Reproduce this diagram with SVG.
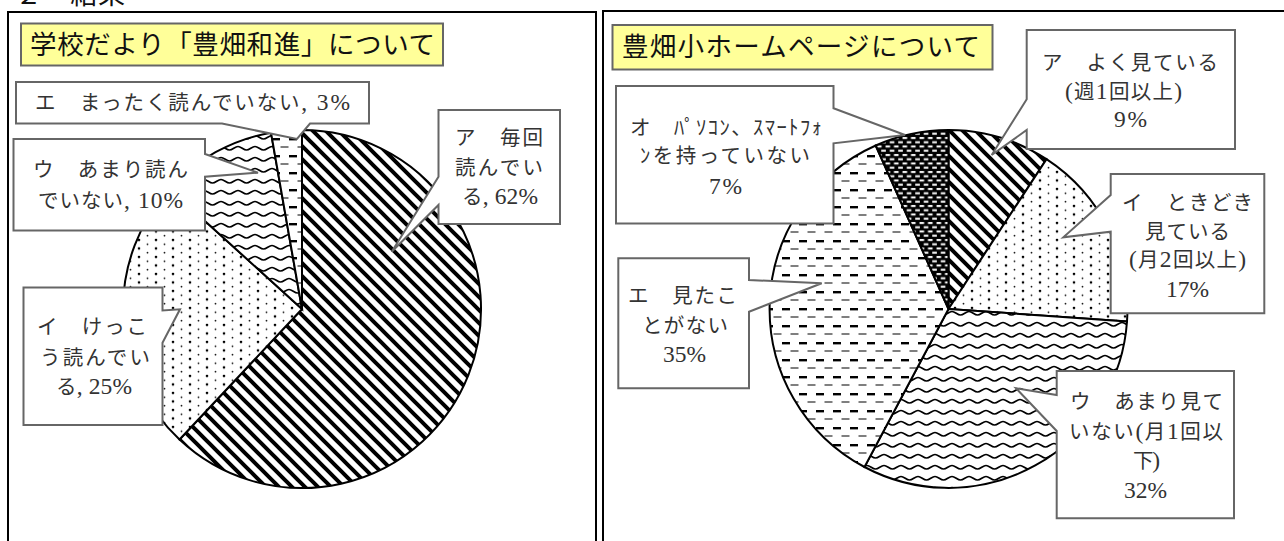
<svg xmlns="http://www.w3.org/2000/svg" width="1284" height="541" viewBox="0 0 1284 541">
<style>
text{font-family:"Liberation Serif","Noto Sans CJK JP",serif;fill:#333;font-size:20.5px}
text.t{fill:#111;font-size:26.5px}
text.h{fill:#111;font-size:27px}
.n{font-size:23.5px}
text.n{font-size:23.5px}
.fr{fill:none;stroke:#000;stroke-width:2}
.s{stroke:#000;stroke-width:2}
.c{fill:#fff;stroke:#666;stroke-width:2}
.y{fill:#ffff99;stroke:#666;stroke-width:2}
</style>
<defs>
<pattern id="stripe" width="13" height="13" patternUnits="userSpaceOnUse">
<rect width="13" height="13" fill="#fff"/>
<path d="M-3,-3L16,16M-3,10L3,16M10,-3L16,3" stroke="#000" stroke-width="4"/>
</pattern>
<pattern id="dots" width="17" height="8.5" patternUnits="userSpaceOnUse">
<rect width="17" height="8.5" fill="#fff"/>
<circle cx="3" cy="2" r="1.3" fill="#000"/>
<circle cx="11.5" cy="6.25" r="0.9" fill="#000"/>
</pattern>
<pattern id="wave" width="17" height="11" patternUnits="userSpaceOnUse">
<rect width="17" height="11" fill="#fff"/>
<path d="M0,3.5C3,3.5 5.5,7 8.5,7C11.5,7 14,3.5 17,3.5" fill="none" stroke="#000" stroke-width="1.7"/>
</pattern>
<pattern id="dash" width="17" height="17" patternUnits="userSpaceOnUse">
<rect width="17" height="17" fill="#fff"/>
<rect x="0" y="2" width="8" height="2.4" fill="#000"/>
<rect x="8.5" y="10.5" width="8" height="1" fill="#000"/>
</pattern>
<pattern id="dark" width="8.5" height="8.5" patternUnits="userSpaceOnUse">
<rect width="8.5" height="8.5" fill="#000"/>
<rect x="1.5" y="1" width="4.6" height="2" fill="#fff"/>
<rect x="-2.75" y="5.25" width="4.6" height="2" fill="#fff"/>
<rect x="5.75" y="5.25" width="4.6" height="2" fill="#fff"/>
</pattern>
</defs>
<rect width="1284" height="541" fill="#fff"/>
<text id="heading" class="h" x="15" y="4" textLength="110">２　結果</text>
<path class="fr" d="M8,541V12H596V541"/>
<path class="fr" d="M603,541V11H1284"/>

<g id="pie-left">
<path class="s" fill="url(#stripe)" d="M302,309V130A179,179 0 1 1 179.5,439.5Z"/>
<path class="s" fill="url(#dots)" d="M302,309L179.5,439.5A179,179 0 0 1 169.4,188.7Z"/>
<path class="s" fill="url(#wave)" d="M302,309L169.4,188.7A179,179 0 0 1 271,132.7Z"/>
<path class="s" fill="url(#dash)" d="M302,309L271,132.7A179,179 0 0 1 302,130Z"/>
</g>
<g id="pie-right">
<path class="s" fill="url(#stripe)" d="M948.5,309V130A179,179 0 0 1 1046.5,159.2Z"/>
<path class="s" fill="url(#dots)" d="M948.5,309L1046.5,159.2A179,179 0 0 1 1127,321.5Z"/>
<path class="s" fill="url(#wave)" d="M948.5,309L1127,321.5A179,179 0 0 1 864.5,467Z"/>
<path class="s" fill="url(#dash)" d="M948.5,309L864.5,467A179,179 0 0 1 875.7,145.5Z"/>
<path class="s" fill="url(#dark)" d="M948.5,309L875.7,145.5A179,179 0 0 1 948.5,130Z"/>
</g>

<g id="title-left"><rect class="y" x="21" y="23.5" width="422" height="42"/>
<text class="t" x="30" y="54" textLength="405">学校だより「豊畑和進」について</text></g>
<g id="title-right"><rect class="y" x="612.5" y="25" width="380" height="44.5"/>
<text class="t" x="622" y="56" textLength="358">豊畑小ホームページについて</text></g>

<g id="label-left-e"><path class="c" d="M16,82H369V123.5H310L297,139L222,123.5H16Z"/>
<text x="35" y="110" textLength="315">エ　まったく読んでいない<tspan class="n">, 3%</tspan></text></g>
<g id="label-left-u"><path class="c" d="M13.5,139H205V154L258,172.7L205,176.7V230.5H13.5Z"/>
<text x="33" y="177" textLength="155">ウ　あまり読ん</text>
<text x="38" y="208" textLength="145">でいない<tspan class="n">, 10%</tspan></text></g>
<g id="label-left-a"><path class="c" d="M438.5,110H560V224H438.5V205L391.7,251.7L438.5,176.7Z"/>
<text x="455" y="145" textLength="88">ア　毎回</text>
<text x="455" y="175" textLength="88">読んでい</text>
<text x="462" y="204" textLength="76">る<tspan class="n">, 62%</tspan></text></g>
<g id="label-left-i"><path class="c" d="M23.5,287.5H162.5V310.5L180,309.3L162.5,342.7V425H23.5Z"/>
<text x="37" y="334" textLength="110">イ　けっこ</text>
<text x="40" y="365" textLength="110">う読んでい</text>
<text x="56" y="394" textLength="76">る<tspan class="n">, 25%</tspan></text></g>

<g id="label-right-o"><path class="c" d="M616,86H833.5V108.3L905,135L833.5,143.3V223.5H616Z"/>
<text x="630" y="135" textLength="192">オ　ﾊﾟｿｺﾝ、ｽﾏｰﾄﾌｫ</text>
<text x="640" y="163" textLength="170">ﾝを持っていない</text>
<text class="n" x="709" y="194" textLength="33">7%</text></g>
<g id="label-right-a"><path class="c" d="M1026.7,30H1235V149H1026.7V130L991.7,155L1026.7,99.3Z"/>
<text x="1042" y="70" textLength="176">ア　よく見ている</text>
<text x="1065" y="99" textLength="117"><tspan class="n">(</tspan>週<tspan class="n">1</tspan>回以上<tspan class="n">)</tspan></text>
<text class="n" x="1114" y="127" textLength="33">9%</text></g>
<g id="label-right-i"><path class="c" d="M1110.7,174H1264.3V313.3H1110.7V231.7L1063.3,237.3L1110.7,195Z"/>
<text x="1122" y="210" textLength="131">イ　ときどき</text>
<text x="1145" y="239" textLength="85">見ている</text>
<text x="1129" y="267" textLength="117"><tspan class="n">(</tspan>月<tspan class="n">2</tspan>回以上<tspan class="n">)</tspan></text>
<text class="n" x="1166" y="297" textLength="43">17%</text></g>
<g id="label-right-u"><path class="c" d="M1056.7,371H1234V518.3H1056.7V431L1016,388.3L1056.7,395Z"/>
<text x="1070" y="409" textLength="153">ウ　あまり見て</text>
<text x="1069" y="439" textLength="154">いない<tspan class="n">(</tspan>月<tspan class="n">1</tspan>回以</text>
<text x="1133" y="468" textLength="27">下<tspan class="n">)</tspan></text>
<text class="n" x="1124" y="498" textLength="43">32%</text></g>
<g id="label-right-e"><path class="c" d="M618.3,258.3H749V280L821.7,283.3L749,311.7V388.3H618.3Z"/>
<text x="628" y="303" textLength="109">エ　見たこ</text>
<text x="642" y="333" textLength="86">とがない</text>
<text class="n" x="663" y="362" textLength="43">35%</text></g>
</svg>
